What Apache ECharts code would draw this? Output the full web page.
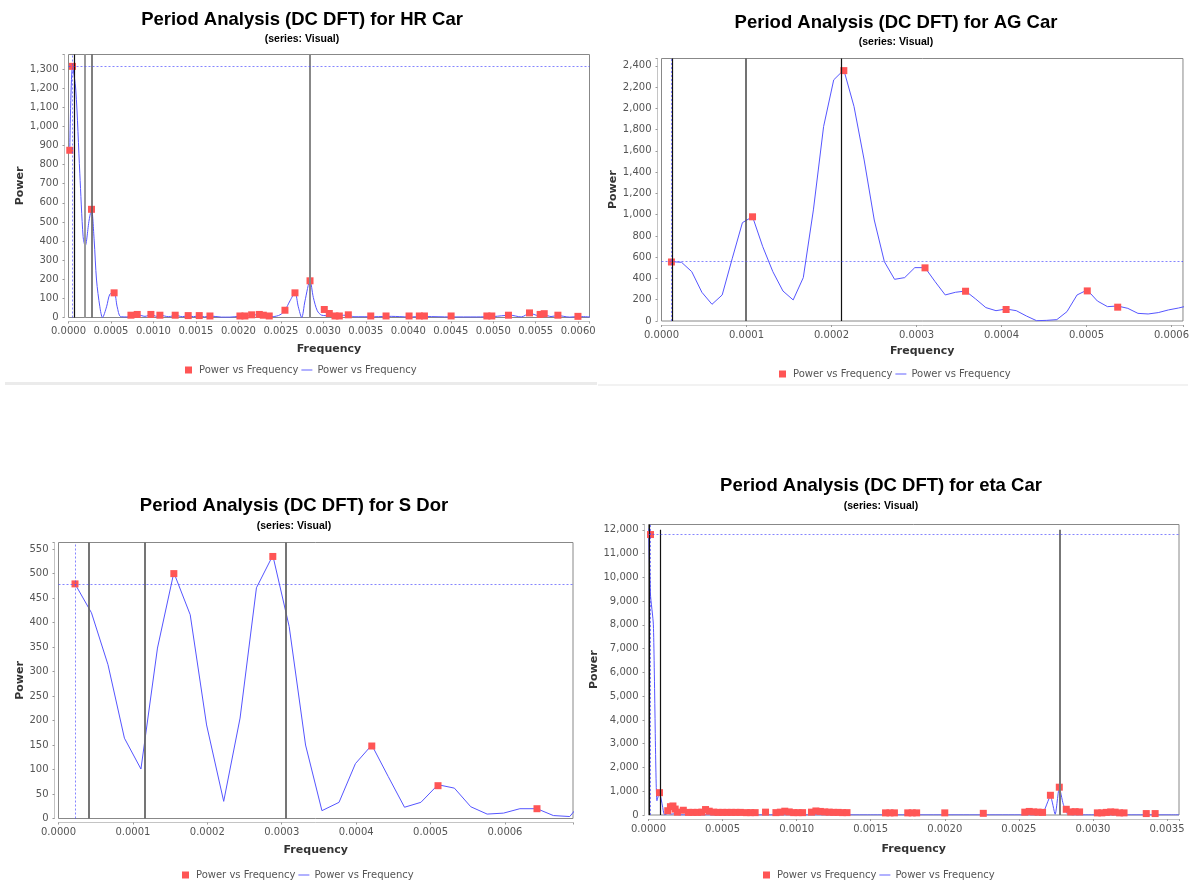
<!DOCTYPE html>
<html>
<head>
<meta charset="utf-8">
<script src="https://cdn.jsdelivr.net/npm/echarts@6/dist/echarts.min.js"></script>
<style>
  html, body { margin: 0; padding: 0; background: #fff; }
  #chart { width: 1192px; height: 883px; }
</style>
</head>
<body>
<div id="chart"></div>
<script>
// ---- HR Car ----
const hrLineFreq = [0.000015, 0.000047, 0.000086, 0.000133, 0.000172, 0.000196, 0.000243, 0.000271, 0.000302, 0.00033,
  0.000369, 0.0004, 0.000448, 0.000487, 0.000537, 0.000573, 0.000612, 0.00068, 0.00075, 0.00081,
  0.0009, 0.00097, 0.00104, 0.00108, 0.00118, 0.00126, 0.00134, 0.00141, 0.00147, 0.00154,
  0.0016, 0.00167, 0.0018, 0.0019, 0.002, 0.00208, 0.00216, 0.00225, 0.0023, 0.00236,
  0.00241, 0.00249, 0.002548, 0.002607, 0.002666, 0.002705, 0.002745, 0.002784, 0.002843, 0.002882,
  0.002929, 0.00298, 0.00303, 0.0033, 0.00336, 0.0036, 0.0038, 0.004, 0.0042, 0.0045,
  0.0048, 0.005, 0.0052, 0.00533, 0.00543, 0.00553, 0.0056, 0.00568, 0.00576, 0.0059, 0.006, 0.00614];
const hrLinePower = [875, 1314, 1190, 755, 423, 374, 510, 566, 405, 196,
  56, 0, 56, 122, 129, 56, 5, 3, 12, 15,
  6, 15, 6, 12, 4, 12, 4, 10, 4, 10,
  3, 8, 2, 2, 6, 8, 12, 15, 12, 8,
  5, 14, 38, 87, 129, 56, 0, 87, 192, 105,
  35, 12, 10, 12, 4, 4, 6, 3, 5, 3,
  3, 5, 12, 3, 22, 10, 14, 5, 10, 2, 5, 3];
const hrPeakFreq = [0.000015, 0.000047, 0.000271, 0.000537, 0.000735, 0.000809, 0.00097, 0.001076, 0.001256, 0.001409,
  0.001539, 0.001665, 0.002018, 0.002077, 0.002156, 0.002246, 0.002293, 0.002363, 0.002548, 0.002666,
  0.002843, 0.003011, 0.00307, 0.003137, 0.003188, 0.003294, 0.003558, 0.003738, 0.004009, 0.00413,
  0.00419, 0.004504, 0.004925, 0.004983, 0.005179, 0.005427, 0.005552, 0.0056, 0.005761, 0.005997];
const hrPeakPower = [875, 1314, 566, 129, 12, 16, 16, 12, 12, 10,
  10, 8, 8, 8, 14, 16, 12, 8, 38, 129,
  192, 42, 21, 8, 8, 14, 8, 8, 8, 8,
  8, 8, 8, 8, 12, 24, 16, 20, 12, 6];
const hrHarmonics = [0.0000624, 0.000192, 0.000271, 0.002843];
const hrCross = [0.000047, 1314];

// ---- AG Car ----
const agFreq = [0.0000117, 0.0000236, 0.0000356, 0.0000475, 0.0000594, 0.0000714, 0.0000833, 0.0000952, 0.0001071, 0.0001191,
  0.000131, 0.0001429, 0.0001549, 0.0001668, 0.0001787, 0.0001907, 0.0002026, 0.0002145, 0.0002265, 0.0002384,
  0.0002503, 0.0002622, 0.0002742, 0.0002861, 0.000298, 0.00031, 0.0003219, 0.0003338, 0.0003458, 0.0003577,
  0.0003696, 0.0003816, 0.0003935, 0.0004054, 0.0004174, 0.0004293, 0.0004412, 0.0004531, 0.0004651, 0.000477,
  0.0004889, 0.0005009, 0.0005128, 0.0005247, 0.0005367, 0.0005486, 0.0005605, 0.0005725, 0.0005844, 0.0005963,
  0.0006082, 0.0006202];
const agPower = [558, 552, 464, 270, 157, 245, 590, 925, 981, 699,
  464, 282, 198, 408, 1045, 1829, 2268, 2362, 2017, 1515,
  950, 558, 392, 408, 502, 502, 370, 245, 270, 282,
  207, 126, 97, 113, 97, 47, 3, 6, 13, 88,
  245, 292, 188, 135, 141, 119, 72, 66, 79, 104,
  122, 145];
const agPeakFreq = [0.0000117, 0.0001071, 0.0002145, 0.00031, 0.0003577, 0.0004054, 0.0005009, 0.0005367];
const agPeakPower = [555, 980, 2355, 500, 280, 108, 283, 130];
const agHarmonics = [0.0000125, 0.0000996, 0.000211];
const agCross = [0.0000117, 558];

// ---- S Dor ----
const sdFreq = [0.0000222, 0.0000443, 0.0000665, 0.0000886, 0.0001108, 0.000133, 0.000155, 0.000177, 0.000199, 0.000222,
  0.000244, 0.000266, 0.000288, 0.00031, 0.000332, 0.000354, 0.000377, 0.000399, 0.000421, 0.000443,
  0.000465, 0.000487, 0.00051, 0.000532, 0.000554, 0.000576, 0.000598, 0.00062, 0.000643, 0.000665,
  0.000687, 0.000709];
const sdPower = [479, 420, 314, 164, 101, 348, 502, 416, 191, 35,
  205, 471, 537, 392, 150, 16, 33, 112, 150, 86,
  23, 33, 69, 62, 24, 9, 11, 20, 20, 6,
  4, 44];
const sdPeakFreq = [0.0000222, 0.000155, 0.000288, 0.000421, 0.00051, 0.000643];
const sdPeakPower = [479, 500, 535, 148, 67, 20];
const sdHarmonics = [0.0000406, 0.0001162, 0.0003054];
const sdCross = [0.0000222, 479];

// ---- eta Car ----
const etaLineFreq = [0.000001, 0.000013, 0.000033, 0.000057, 0.0000742, 0.000093, 0.000108, 0.00013, 0.000155, 0.00018,
  0.00021, 0.0005, 0.001, 0.0015, 0.002, 0.0026, 0.00266, 0.002713, 0.002745, 0.002773,
  0.0028, 0.00283, 0.0029, 0.003581];
const etaLinePower = [12050, 9300, 8000, 600, 940, 420, 10, 60, 40, 60,
  5, 5, 5, 5, 5, 5, 60, 780, 30, 1150,
  450, 40, 5, 5];
const etaPeakFreq = [0.0000135, 0.0000742, 0.00013, 0.000148, 0.000165, 0.00018, 0.000195, 0.000235, 0.00027, 0.0003,
  0.00033, 0.00036, 0.000385, 0.00041, 0.00044, 0.00047, 0.0005, 0.00053, 0.00056, 0.00059,
  0.00062, 0.00066, 0.00069, 0.00072, 0.00079, 0.00086, 0.00089, 0.00092, 0.00095, 0.00098,
  0.00101, 0.00104, 0.0011, 0.00113, 0.00116, 0.00119, 0.00122, 0.00125, 0.00128, 0.00131,
  0.00134, 0.0016, 0.00163, 0.00166, 0.00175, 0.00178, 0.00181, 0.002, 0.00226, 0.00254,
  0.00257, 0.0026, 0.00263, 0.00266, 0.002713, 0.002773, 0.00282, 0.00285, 0.00288, 0.00291,
  0.00303, 0.00306, 0.00309, 0.00312, 0.00315, 0.00318, 0.00321, 0.00336, 0.00342];
const etaPeakPower = [11800, 940, 180, 350, 380, 250, 120, 200, 110, 110,
  110, 120, 230, 160, 120, 110, 110, 110, 110, 110,
  110, 100, 100, 100, 120, 100, 120, 160, 130, 100,
  100, 100, 120, 170, 150, 130, 120, 110, 110, 100,
  100, 90, 90, 90, 90, 90, 90, 90, 70, 120,
  150, 130, 120, 110, 830, 1170, 240, 130, 140, 130,
  90, 90, 110, 130, 120, 90, 90, 60, 60];
const etaHarmonics = [0.000003, 0.0000763, 0.002773];
const etaCross = [0.0000135, 11800];

const zip = (xs, ys) => xs.map((x, i) => [x, ys[i]]);

// layout of the four panels
const panels = [
  {
    title: 'Period Analysis (DC DFT) for HR Car', cx: 302, ty: 20, sy: 39,
    grid: { left: 68.5, top: 54.5, width: 521, height: 263 },
    xMax: 0.006133, xStep: 0.0005, yMax: 1376, yStep: 100,
    yNameGap: 39, xNameGap: 22, legendLeft: 185, legendTop: 365,
    line: zip(hrLineFreq, hrLinePower), peaks: zip(hrPeakFreq, hrPeakPower), smooth: 0.3,
    harmonics: hrHarmonics, harmColors: ['#111', '#999', '#555', '#888'], harmWidths: [1.2, 2, 1.5, 2],
    cross: hrCross, harmTop: [1376, 1376, 1376, 1376]
  },
  {
    title: 'Period Analysis (DC DFT) for AG Car', cx: 896, ty: 23, sy: 42.5,
    grid: { left: 661.5, top: 58.5, width: 524, height: 262.5 },
    xMax: 0.0006135, xStep: 0.0001, yMax: 2469, yStep: 200,
    yNameGap: 39, xNameGap: 21, legendLeft: 779, legendTop: 369,
    line: zip(agFreq, agPower), peaks: zip(agPeakFreq, agPeakPower), smooth: false,
    harmonics: agHarmonics, harmColors: ['#111', '#444', '#111'], harmWidths: [1.2, 1.5, 1.2],
    cross: agCross, harmTop: [2469, 2469, 2469]
  },
  {
    title: 'Period Analysis (DC DFT) for S Dor', cx: 294, ty: 506, sy: 526,
    grid: { left: 58.5, top: 542.5, width: 514.5, height: 276 },
    xMax: 0.0006914, xStep: 0.0001, yMax: 563.5, yStep: 50,
    yNameGap: 28, xNameGap: 22, legendLeft: 182, legendTop: 870,
    line: zip(sdFreq, sdPower), peaks: zip(sdPeakFreq, sdPeakPower), smooth: false,
    harmonics: sdHarmonics, harmColors: ['#666', '#666', '#666'], harmWidths: [1.8, 1.8, 1.8],
    cross: sdCross, harmTop: [563.5, 563.5, 563.5]
  },
  {
    title: 'Period Analysis (DC DFT) for eta Car', cx: 881, ty: 485.5, sy: 506.5,
    grid: { left: 648.5, top: 524.5, width: 530.5, height: 290.5 },
    xMax: 0.003581, xStep: 0.0005, yMax: 12223, yStep: 1000,
    yNameGap: 44, xNameGap: 25, legendLeft: 763, legendTop: 870,
    line: zip(etaLineFreq, etaLinePower), peaks: zip(etaPeakFreq, etaPeakPower), smooth: 0.2,
    harmonics: etaHarmonics, harmColors: ['#111', '#111', '#777'], harmWidths: [1.2, 1.2, 2],
    cross: etaCross, harmTop: [12223, 12000, 12000]
  }
];

const onStep = (v, step) => Math.abs(v / step - Math.round(v / step)) < 1e-6;
const tickFont = { fontFamily: 'DejaVu Sans', fontSize: 10, color: '#555' };
const nameFont = { fontFamily: 'DejaVu Sans', fontSize: 11, fontWeight: 'bold', color: '#333' };

const option = {
  animation: false,
  backgroundColor: '#fff',
  grid: [], xAxis: [], yAxis: [], series: [], legend: [],
  graphic: [
    { type: 'rect', shape: { x: 5, y: 382, width: 592, height: 3 }, style: { fill: '#ebebeb' } },
    { type: 'rect', shape: { x: 598, y: 384, width: 590, height: 2 }, style: { fill: '#f2f2f2' } }
  ]
};

panels.forEach((p, i) => {
  option.grid.push(Object.assign({ show: true, borderColor: '#888', borderWidth: 1, backgroundColor: '#fff' }, p.grid));

  option.xAxis.push({
    gridIndex: i, type: 'value', min: 0, max: p.xMax, interval: p.xStep, offset: 4,
    name: 'Frequency', nameLocation: 'middle', nameGap: p.xNameGap, nameTextStyle: nameFont,
    axisLine: { show: true, onZero: false, lineStyle: { color: '#c4c4c4' } },
    axisTick: { show: true, length: 2, lineStyle: { color: '#999' } },
    axisLabel: Object.assign({ margin: 5, showMinLabel: true, showMaxLabel: true,
      formatter: v => onStep(v, p.xStep) ? v.toFixed(4) : '' }, tickFont),
    splitLine: { show: false }
  });

  option.yAxis.push({
    gridIndex: i, type: 'value', min: 0, max: p.yMax, interval: p.yStep, offset: 4,
    name: 'Power', nameLocation: 'middle', nameGap: p.yNameGap, nameTextStyle: nameFont,
    axisLine: { show: true, onZero: false, lineStyle: { color: '#c4c4c4' } },
    axisTick: { show: true, length: 2, lineStyle: { color: '#999' } },
    axisLabel: Object.assign({ margin: 6, showMinLabel: true, showMaxLabel: true,
      formatter: v => onStep(v, p.yStep) ? Math.round(v).toLocaleString('en-US') : '' }, tickFont),
    splitLine: { show: false }
  });

  // harmonic marker lines, drawn as explicit coordinate pairs
  const harmData = p.harmonics.map((f, k) => [
    { coord: [f, 0], lineStyle: { color: p.harmColors[k], width: p.harmWidths[k], type: 'solid' } },
    { coord: [f, p.harmTop[k]] }
  ]);

  option.series.push({
    name: 'line' + i, type: 'line', xAxisIndex: i, yAxisIndex: i,
    data: p.line, smooth: p.smooth, symbol: 'none', showSymbol: false,
    color: '#5555ff', itemStyle: { color: '#5555ff' },
    lineStyle: { color: '#5555ff', width: 1 }, clip: true, z: 3,
    markLine: { silent: true, precision: 10, symbol: ['none', 'none'], label: { show: false }, animation: false, data: harmData }
  });

  option.series.push({
    name: 'pts' + i, type: 'scatter', xAxisIndex: i, yAxisIndex: i,
    data: p.peaks, symbol: 'rect', symbolSize: 7,
    color: '#ff5555', itemStyle: { color: '#ff5555', opacity: 1 }, z: 4,
    markLine: {
      silent: true, precision: 10, symbol: ['none', 'none'], label: { show: false }, animation: false,
      lineStyle: { color: '#4a4aff', width: 0.8, type: [2, 2], opacity: 0.85 },
      data: [
        [{ coord: [p.cross[0], 0] }, { coord: [p.cross[0], p.yMax] }],
        [{ coord: [0, p.cross[1]] }, { coord: [p.xMax, p.cross[1]] }]
      ]
    }
  });

  option.legend.push({
    left: p.legendLeft, top: p.legendTop, padding: 0, orient: 'horizontal',
    itemWidth: 11, itemHeight: 7, itemGap: 3, selectedMode: false,
    itemStyle: { borderWidth: 0 },
    data: [
      { name: 'pts' + i, icon: 'path://M0,0H1V1H0Z' },
      { name: 'line' + i, icon: 'path://M0,0H12V1H0Z' }
    ],
    formatter: () => 'Power vs Frequency',
    textStyle: { fontFamily: 'DejaVu Sans', fontSize: 10, color: '#555' }
  });

  option.graphic.push({
    type: 'text', x: p.cx, y: p.ty,
    style: { text: p.title, fill: '#000', font: 'bold 18.5px "Liberation Sans", Arial, sans-serif', align: 'center', verticalAlign: 'middle' }
  });
  option.graphic.push({
    type: 'text', x: p.cx, y: p.sy,
    style: { text: '(series: Visual)', fill: '#000', font: 'bold 10.5px "Liberation Sans", Arial, sans-serif', align: 'center', verticalAlign: 'middle' }
  });
});

const chart = echarts.init(document.getElementById('chart'));
chart.setOption(option);
</script>
</body>
</html>
